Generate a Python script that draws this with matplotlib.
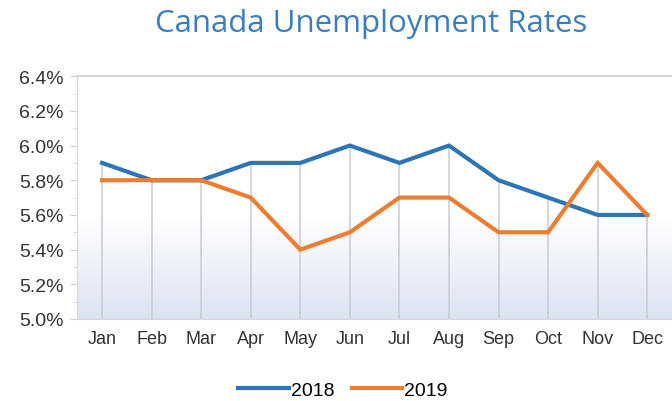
import numpy as np
import matplotlib
matplotlib.use('Agg')
import matplotlib.pyplot as plt
from matplotlib.ticker import MultipleLocator, FuncFormatter

months = ['Jan', 'Feb', 'Mar', 'Apr', 'May', 'Jun', 'Jul', 'Aug', 'Sep', 'Oct', 'Nov', 'Dec']
rate_2018 = [5.9, 5.8, 5.8, 5.9, 5.9, 6.0, 5.9, 6.0, 5.8, 5.7, 5.6, 5.6]
rate_2019 = [5.8, 5.8, 5.8, 5.7, 5.4, 5.5, 5.7, 5.7, 5.5, 5.5, 5.9, 5.6]

plt.rcParams['font.family'] = ['Liberation Sans', 'DejaVu Sans']

fig = plt.figure(figsize=(6.72, 4.02), dpi=100)
ax = fig.add_axes([0.115, 0.204, 0.885, 0.604])

x = np.arange(len(months))
ax.set_xlim(-0.5, 11.5)
ax.set_ylim(5.0, 6.4)

# gradient background: white above ~5.6, light blue toward bottom
grad = np.ones((256, 1, 4))
t = np.linspace(0, 1, 256)  # 0 at bottom, 1 at top
low = np.array([0.86, 0.89, 0.95])
mix = np.clip(t / 0.43, 0, 1)
for i in range(3):
    grad[:, 0, i] = low[i] + (1 - low[i]) * mix
ax.imshow(grad, extent=[-0.5, 11.5, 5.0, 6.4], origin='lower', aspect='auto', zorder=0)

# drop lines
top = np.maximum(rate_2018, rate_2019)
ax.vlines(x, 5.0, top, color='#c8cbd2', lw=1.1, zorder=1)

ax.plot(x, rate_2018, color='#2e75b6', lw=3, label='2018', zorder=3, solid_joinstyle='miter')
ax.plot(x, rate_2019, color='#ed7d31', lw=3, label='2019', zorder=3, solid_joinstyle='miter')

ax.set_xticks(x)
ax.set_xticklabels(months)
ax.yaxis.set_major_locator(MultipleLocator(0.2))
ax.yaxis.set_minor_locator(MultipleLocator(0.1))
ax.yaxis.set_major_formatter(FuncFormatter(lambda v, p: f'{v:.1f}%'))
ax.tick_params(axis='x', length=0, labelsize=13, colors='#333333', pad=8)
ax.tick_params(axis='y', which='major', length=5, color='#d0d0d0', labelsize=14, labelcolor='#333333', pad=5)
ax.tick_params(axis='y', which='minor', length=3, color='#d0d0d0')

ax.spines['right'].set_visible(False)
ax.spines['top'].set_color('#d0d0d0')
ax.spines['left'].set_color('#d8d8d8')
ax.spines['bottom'].set_color('#d8d8d8')
ax.spines['top'].set_linewidth(1.2)

fig.text(0.553, 0.94, 'Canada Unemployment Rates', ha='center', va='center',
         fontsize=22.5, color='#3a7dc0', family=['Open Sans', 'DejaVu Sans'])

fig.legend(loc='center', bbox_to_anchor=(0.51, 0.028), ncol=2, frameon=False,
           fontsize=14, handlelength=2.6, handletextpad=0.1, columnspacing=0.9)

fig.savefig('out.png', dpi=100)
